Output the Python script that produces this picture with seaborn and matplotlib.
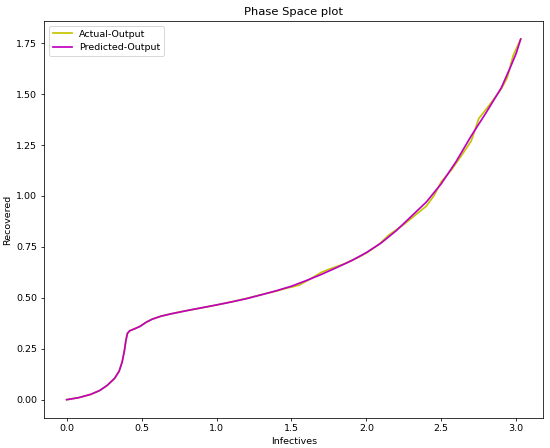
import matplotlib

matplotlib.use("Agg")
import matplotlib.pyplot as plt
import seaborn as sns

# Predicted trajectory (infectives, recovered)
pred_infectives = [
    0.00, 0.08, 0.16, 0.22, 0.27, 0.32, 0.35, 0.37, 0.385, 0.395, 0.405, 0.42,
    0.45, 0.49, 0.53, 0.57, 0.63, 0.70, 0.80, 0.90, 1.00, 1.10, 1.20, 1.30,
    1.40, 1.50, 1.60, 1.70, 1.80, 1.90, 2.00, 2.10, 2.20, 2.30, 2.40, 2.50,
    2.60, 2.70, 2.80, 2.90, 2.96, 3.00, 3.03,
]
pred_recovered = [
    0.000, 0.010, 0.026, 0.045, 0.070, 0.105, 0.140, 0.185, 0.240, 0.290, 0.325, 0.338,
    0.347, 0.360, 0.380, 0.395, 0.410, 0.422, 0.437, 0.451, 0.465, 0.480, 0.496, 0.515,
    0.535, 0.557, 0.585, 0.615, 0.648, 0.682, 0.722, 0.770, 0.830, 0.900, 0.970, 1.060,
    1.170, 1.295, 1.410, 1.530, 1.630, 1.700, 1.770,
]

# Actual trajectory, slightly noisier
act_infectives = [
    0.00, 0.08, 0.16, 0.22, 0.27, 0.32, 0.35, 0.37, 0.385, 0.395, 0.405, 0.42,
    0.45, 0.49, 0.53, 0.57, 0.63, 0.70, 0.80, 0.90, 1.00, 1.10, 1.20, 1.30,
    1.40, 1.45, 1.55, 1.62, 1.70, 1.75, 1.85, 1.95, 2.00, 2.08, 2.15, 2.25,
    2.35, 2.40, 2.45, 2.50, 2.57, 2.65, 2.70, 2.75, 2.82, 2.90, 2.94, 2.98, 3.03,
]
act_recovered = [
    0.000, 0.010, 0.026, 0.045, 0.070, 0.105, 0.140, 0.185, 0.240, 0.290, 0.325, 0.338,
    0.347, 0.360, 0.380, 0.395, 0.410, 0.422, 0.437, 0.451, 0.465, 0.480, 0.497, 0.516,
    0.533, 0.544, 0.562, 0.590, 0.625, 0.640, 0.666, 0.700, 0.720, 0.760, 0.808, 0.860,
    0.920, 0.950, 1.000, 1.070, 1.130, 1.215, 1.270, 1.380, 1.445, 1.525, 1.580, 1.690, 1.770,
]

# rendered as an 8 in wide figure, scaled down to 550 px
fig, ax = plt.subplots(figsize=(8, 448 / 68.75), dpi=68.75)
sns.lineplot(x=act_infectives, y=act_recovered, color="#c4c400", label="Actual-Output",
             sort=False, linewidth=1.8, ax=ax)
sns.lineplot(x=pred_infectives, y=pred_recovered, color="#bf00bf", label="Predicted-Output",
             sort=False, linewidth=1.8, ax=ax)
ax.set_title("Phase Space plot")
ax.set_xlabel("Infectives")
ax.set_ylabel("Recovered")
ax.legend(loc="upper left")
fig.subplots_adjust(left=0.080, right=0.988, bottom=0.0676, top=0.953)
fig.savefig("out.png", dpi=68.75)
